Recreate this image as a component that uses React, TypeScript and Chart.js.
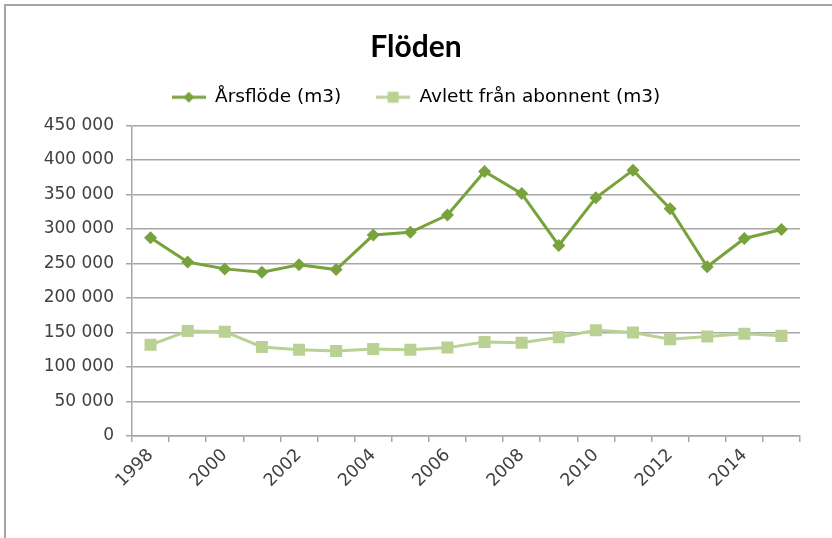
import React, { useEffect, useRef } from "react";
import { Chart, registerables } from "chart.js";

Chart.register(...registerables);

const years = ["1998", "1999", "2000", "2001", "2002", "2003", "2004", "2005", "2006", "2007", "2008", "2009", "2010", "2011", "2012", "2013", "2014", "2015"];
const arsflode = [287000, 252000, 242000, 237000, 248000, 241000, 291000, 295000, 320000, 383000, 351000, 276000, 345000, 385000, 329000, 245000, 286000, 299000];
const avlett = [132000, 152000, 151000, 129000, 125000, 123000, 126000, 125000, 128000, 136000, 135000, 143000, 153000, 150000, 140000, 144000, 148000, 145000];
const seriesNames = ["Årsflöde (m3)", "Avlett från abonnent (m3)"];
const titleText = "Flöden";

const C1 = "#78a23c";
const C2 = "#b9d293";
const FONT = "'DejaVu Sans', sans-serif";
const TITLE_FONT = "Lato, 'Liberation Sans', sans-serif";

function makeMarker(color: string, shape: "diamond" | "square") {
  const c = document.createElement("canvas");
  c.width = 34;
  c.height = 14;
  const g = c.getContext("2d")!;
  g.strokeStyle = color;
  g.lineWidth = 3;
  g.beginPath();
  g.moveTo(0, 7);
  g.lineTo(34, 7);
  g.stroke();
  g.fillStyle = color;
  if (shape === "diamond") {
    g.beginPath();
    g.moveTo(17, 1.5);
    g.lineTo(22.5, 7);
    g.lineTo(17, 12.5);
    g.lineTo(11.5, 7);
    g.closePath();
    g.fill();
  } else {
    g.fillRect(11.5, 1.5, 11, 11);
  }
  return c;
}

function fmt(v: number) {
  return String(v).replace(/\B(?=(\d{3})+(?!\d))/g, " ");
}

export default function App() {
  const ref = useRef<HTMLCanvasElement>(null);
  useEffect(() => {
    const m1 = makeMarker(C1, "diamond");
    const m2 = makeMarker(C2, "square");
    const legendPad = {
      id: "legendPad",
      beforeLayout(chart: any) {
        const l = chart.legend;
        if (l && !l.__patched) {
          const orig = l.fit;
          l.fit = function () {
            orig.call(this);
            this.height += 8.75;
          };
          l.__patched = true;
        }
      },
    };
    const chart = new Chart(ref.current!, {
      type: "line",
      data: {
        labels: years,
        datasets: [
          {
            label: seriesNames[0],
            data: arsflode,
            borderColor: C1,
            backgroundColor: C1,
            borderWidth: 3,
            pointStyle: "rectRot",
            pointRadius: 6.5,
            pointBackgroundColor: C1,
            pointBorderColor: C1,
            pointBorderWidth: 0,
            tension: 0,
          },
          {
            label: seriesNames[1],
            data: avlett,
            borderColor: C2,
            backgroundColor: C2,
            borderWidth: 3,
            pointStyle: "rect",
            pointRadius: 8.5,
            pointBackgroundColor: C2,
            pointBorderColor: C2,
            pointBorderWidth: 0,
            tension: 0,
          },
        ],
      },
      options: {
        animation: false,
        responsive: false,
        maintainAspectRatio: false,
        layout: { padding: { left: 0, right: 0, top: 0, bottom: 0 } },
        plugins: {
          title: {
            display: true,
            text: titleText,
            color: "#000000",
            font: { family: TITLE_FONT, size: 30, weight: "bold", lineHeight: 0.4 },
            padding: { top: 41, bottom: 0 },
          },
          legend: {
            display: true,
            position: "top",
            labels: {
              usePointStyle: true,
              pointStyleWidth: 34,
              padding: 35,
              color: "#404040",
              font: { family: FONT, size: 18.5 },
              generateLabels: () => [
                { text: seriesNames[0], pointStyle: m1 as any, fillStyle: C1, strokeStyle: C1, lineWidth: 0, hidden: false, datasetIndex: 0 },
                { text: seriesNames[1], pointStyle: m2 as any, fillStyle: C2, strokeStyle: C2, lineWidth: 0, hidden: false, datasetIndex: 1 },
              ],
            },
          },
          tooltip: { enabled: false },
        },
        scales: {
          x: {
            type: "category",
            offset: true,
            afterFit: (s: any) => {
              s.height = 102;
            },
            grid: {
              offset: true,
              drawOnChartArea: false,
              drawTicks: true,
              tickLength: 6,
              color: "#a6a6a6",
              lineWidth: 1.5,
            },
            border: { display: true, color: "#a6a6a6", width: 1.5 },
            ticks: {
              autoSkip: false,
              maxRotation: 45,
              minRotation: 45,
              padding: 3,
              color: "#404040",
              font: { family: FONT, size: 17.5 },
              callback: (_v: any, i: number) => (i % 2 === 0 ? years[i] : ""),
            },
          },
          y: {
            min: 0,
            max: 450000,
            afterFit: (s: any) => {
              s.width = 132;
            },
            grid: {
              drawTicks: true,
              tickLength: 6,
              color: "#a6a6a6",
              lineWidth: 1.5,
            },
            border: { display: true, color: "#a6a6a6", width: 1.5 },
            ticks: {
              stepSize: 50000,
              padding: 12,
              color: "#404040",
              font: { family: FONT, size: 17 },
              callback: (v: any) => fmt(Number(v)),
            },
          },
          yRightSpace: {
            type: "linear",
            position: "right",
            display: true,
            min: 0,
            max: 1,
            afterFit: (s: any) => {
              s.width = 32;
            },
            grid: { display: false, drawOnChartArea: false },
            border: { display: false },
            ticks: { display: false },
          },
        },
      },
      plugins: [legendPad],
    });
    return () => chart.destroy();
  }, []);
  return (
    <div style={{ position: "absolute", left: 0, top: 0, width: 832, height: 538, background: "#ffffff", overflow: "hidden" }}>
      <div style={{ position: "absolute", left: 4, top: 4, right: 0, bottom: 0, borderTop: "2px solid #a6a6a6", borderLeft: "2px solid #a6a6a6" }} />
      <canvas ref={ref} width={832} height={538} style={{ position: "absolute", left: 0, top: 0, width: 832, height: 538 }} />
    </div>
  );
}
